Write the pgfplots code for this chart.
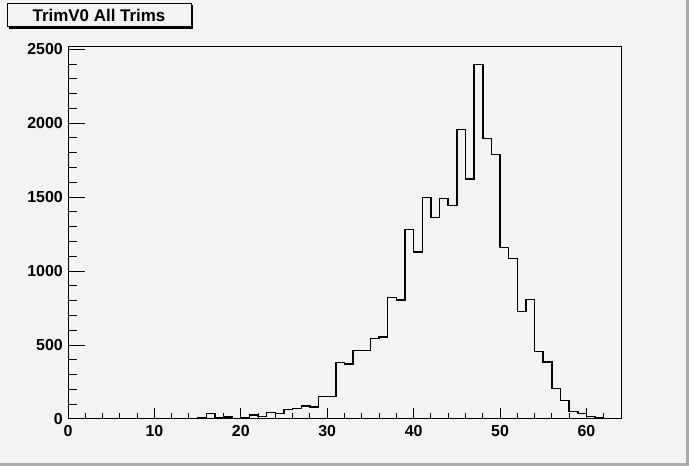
\documentclass[border=0pt]{standalone}
\usepackage{pgfplots}
\pgfplotsset{compat=1.18}
\usepackage{fontspec}
\setmainfont{Liberation Sans}
\definecolor{bg}{RGB}{243,243,243}
\definecolor{edge}{RGB}{170,170,170}
\pgfplotstableread{
x y
0 0
1 0
2 0
3 0
4 0
5 0
6 0
7 0
8 0
9 0
10 0
11 0
12 3
13 3
14 3
15 8
16 38
17 8
18 15
19 5
20 11
21 27
22 18
23 45
24 38
25 65
26 72
27 88
28 81
29 153
30 153
31 383
32 372
33 464
34 464
35 545
36 554
37 822
38 804
39 1282
40 1128
41 1499
42 1363
43 1491
44 1445
45 1957
46 1622
47 2397
48 1897
49 1789
50 1160
51 1086
52 728
53 809
54 457
55 387
56 205
57 125
58 52
59 37
60 18
61 10
62 0
}\histdata
\begin{document}
\begin{tikzpicture}
\fill[bg] (0bp,0bp) rectangle (689bp,466bp);
\fill[edge] (0bp,0bp) rectangle (689bp,3bp);
\fill[edge] (686bp,0bp) rectangle (689bp,466bp);
% title box
\fill[black] (9bp,437bp) rectangle (193bp,461bp);
\filldraw[fill=bg, draw=black, line width=0.8bp] (7bp,440bp) rectangle (191bp,463bp);
\node[font=\bfseries\fontsize{17}{17}\selectfont] at (99bp,451bp) {TrimV0 All Trims};
\begin{axis}[at={(68bp,47bp)}, anchor=south west, scale only axis,
  width=553bp, height=372bp,
  xmin=0, xmax=64, ymin=0, ymax=2515,
  axis line style={line width=1bp},
  tick align=inside,
  xtick=\empty,
  ytick={0,500,...,2500}, minor ytick={100,200,...,2400},
  ytick pos=left,
  major tick length=17bp, minor tick length=9bp,
  tick style={black, line width=1bp},
  /pgf/number format/assume math mode=true,
  /pgf/number format/1000 sep={},
  ticklabel style={font=\bfseries\fontsize{16}{16}\selectfont},
  yticklabel style={inner sep=0pt, xshift=-5bp},
]
\addplot[const plot, black, line width=1.5bp] table[x=x,y=y] {\histdata};
\draw[line width=1.8bp] (rel axis cs:0,1) -- (rel axis cs:0,0) -- (rel axis cs:1,0);
\end{axis}
\begin{axis}[at={(68bp,47bp)}, anchor=south west, scale only axis,
  width=553bp, height=372bp,
  xmin=0, xmax=64, ymin=0, ymax=2515,
  axis line style={draw=none},
  tick align=inside,
  ytick=\empty,
  xtick={0,10,...,60}, minor xtick={2,4,...,62},
  xtick pos=left,
  major tick length=11bp, minor tick length=6bp,
  tick style={black, line width=1bp},
  /pgf/number format/assume math mode=true,
  ticklabel style={font=\bfseries\fontsize{16}{16}\selectfont},
  xticklabel style={inner sep=0pt, yshift=-6bp},
]
\end{axis}
\end{tikzpicture}
\end{document}
